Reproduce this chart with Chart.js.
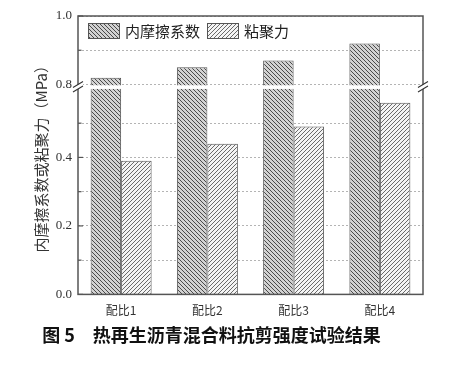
<!DOCTYPE html>
<html><head><meta charset="utf-8">
<script src="https://cdn.jsdelivr.net/npm/chart.js@4.4.0/dist/chart.umd.min.js"></script>
<style>html,body{margin:0;padding:0;background:#fff}</style>
</head><body>
<canvas id="c" width="457" height="366" style="width:457px;height:366px;display:block"></canvas>
<script>
const categories = ['配比1', '配比2', '配比3', '配比4'];
const seriesNames = ['内摩擦系数', '粘聚力'];
const friction = [0.82, 0.85, 0.87, 0.92];
const cohesion = [0.39, 0.44, 0.49, 0.56];
const tickValues = [0, 0.1, 0.2, 0.3, 0.4, 0.5, 0.8, 0.9, 1.0];
const labeledTicks = [0, 0.2, 0.4, 0.8, 1.0];
const breakLow = 0.6, breakHigh = 0.8, breakGap = 0.013, axisTop = 1.0;
const yTitle = '内摩擦系数或粘聚力（MPa）';
const caption = '图 5\u3000热再生沥青混合料抗剪强度试验结果';

const toAxis = v => v <= breakLow ? v : v - (breakHigh - breakLow) + breakGap;
const fromAxis = a => a <= breakLow + 1e-9 ? a : a + (breakHigh - breakLow) - breakGap;

const cv = document.getElementById('c');
const ctx = cv.getContext('2d');
function makePattern(dir, bg, fg) {
  const s = 4, c = document.createElement('canvas'); c.width = s; c.height = s;
  const x = c.getContext('2d'); x.fillStyle = bg; x.fillRect(0, 0, s, s);
  x.strokeStyle = fg; x.lineWidth = 1; x.beginPath();
  if (dir === 'back') { x.moveTo(-1, -1); x.lineTo(s + 1, s + 1); x.moveTo(-1, s - 1); x.lineTo(1, s + 1); x.moveTo(s - 1, -1); x.lineTo(s + 1, 1); }
  else { x.moveTo(-1, s + 1); x.lineTo(s + 1, -1); x.moveTo(-1, 1); x.lineTo(1, -1); x.moveTo(s - 1, s + 1); x.lineTo(s + 1, s - 1); }
  x.stroke();
  return ctx.createPattern(c, 'repeat');
}
const patA = makePattern('back', '#d2d2d2', '#4a4a4a');
const patB = makePattern('fwd', '#f4f4f4', '#6a6a6a');

const cjk = '"Noto Sans CJK SC", "Noto Sans", sans-serif';

const overlay = {
  id: 'overlay',
  afterDatasetsDraw(chart) {
    const c = chart.ctx, a = chart.chartArea, ys = chart.scales.y;
    const yA = ys.getPixelForValue(breakLow), yB = ys.getPixelForValue(breakLow + breakGap);
    c.save();
    c.fillStyle = '#fff';
    c.fillRect(a.left, yB + 0.8, a.right - a.left, yA - yB - 0.8);
    // frame
    c.strokeStyle = '#555'; c.lineWidth = 1.5;
    c.strokeRect(a.left, a.top, a.right - a.left, a.bottom - a.top);
    // inward ticks
    c.lineWidth = 1.2;
    tickValues.forEach(v => {
      const y = ys.getPixelForValue(toAxis(v));
      const len = labeledTicks.includes(v) ? 5 : 3.5;
      c.beginPath(); c.moveTo(a.left, y); c.lineTo(a.left + len, y); c.stroke();
    });
    // break marks
    [a.left, a.right].forEach(x => {
      c.fillStyle = '#fff';
      c.beginPath();
      c.moveTo(x - 5, yB + 3); c.lineTo(x + 5, yB - 3); c.lineTo(x + 5, yA - 3); c.lineTo(x - 5, yA + 3); c.closePath(); c.fill();
      c.strokeStyle = '#333'; c.lineWidth = 1.1;
      c.beginPath(); c.moveTo(x - 5, yB + 3); c.lineTo(x + 5, yB - 3); c.moveTo(x - 5, yA + 3); c.lineTo(x + 5, yA - 3); c.stroke();
    });
    // legend
    c.font = '15px ' + cjk; c.textBaseline = 'middle'; c.fillStyle = '#222';
    let lx = a.left + 10; const ly = a.top + 7, bw = 31, bh = 15;
    chart.data.datasets.forEach((ds, i) => {
      c.fillStyle = ds.backgroundColor; c.fillRect(lx, ly, bw, bh);
      c.strokeStyle = '#555'; c.lineWidth = 1; c.strokeRect(lx + 0.5, ly + 0.5, bw, bh);
      c.fillStyle = '#222'; c.fillText(ds.label, lx + bw + 6, ly + bh / 2 + 1);
      lx += bw + 6 + c.measureText(ds.label).width + 7;
    });
    c.restore();
  }
};

new Chart(cv, {
  type: 'bar',
  data: {
    labels: categories,
    datasets: [
      { label: seriesNames[0], data: friction.map(toAxis), backgroundColor: patA, borderColor: '#555', borderWidth: 1 },
      { label: seriesNames[1], data: cohesion.map(toAxis), backgroundColor: patB, borderColor: '#555', borderWidth: 1 }
    ]
  },
  options: {
    responsive: false, animation: false, events: [],
    datasets: { bar: { categoryPercentage: 0.707, barPercentage: 1 } },
    layout: { padding: { left: 0, right: 34, top: 16, bottom: 20 } },
    plugins: {
      legend: { display: false }, tooltip: { enabled: false },
      title: { display: true, position: 'bottom', text: caption, color: '#111',
        font: { family: cjk, size: 18, weight: 'bold' }, padding: { top: 4, bottom: 0 } }
    },
    scales: {
      x: {
        grid: { display: false, drawTicks: false }, border: { display: false },
        ticks: { color: '#333', font: { family: cjk, size: 12 }, padding: 9 },
        afterFit: s => { s.height = 26; }
      },
      y: {
        min: 0, max: toAxis(axisTop),
        afterBuildTicks: s => { s.ticks = tickValues.map(v => ({ value: toAxis(v) })); },
        afterFit: s => { s.width = 78; },
        grid: { color: '#b4b4b4', lineWidth: 1, drawTicks: false },
        border: { display: false, dash: [2, 2] },
        ticks: { autoSkip: false, color: '#333', padding: 6, font: { family: '"Liberation Serif", serif', size: 13 },
          callback: val => { const r = fromAxis(val); const t = labeledTicks.find(x => Math.abs(x - r) < 1e-6); return t !== undefined ? t.toFixed(1) : ''; } },
        title: { display: true, text: yTitle, color: '#333', font: { family: cjk, size: 15 }, padding: { top: 32, bottom: 0 } }
      }
    }
  },
  plugins: [overlay]
});
</script>
</body></html>
